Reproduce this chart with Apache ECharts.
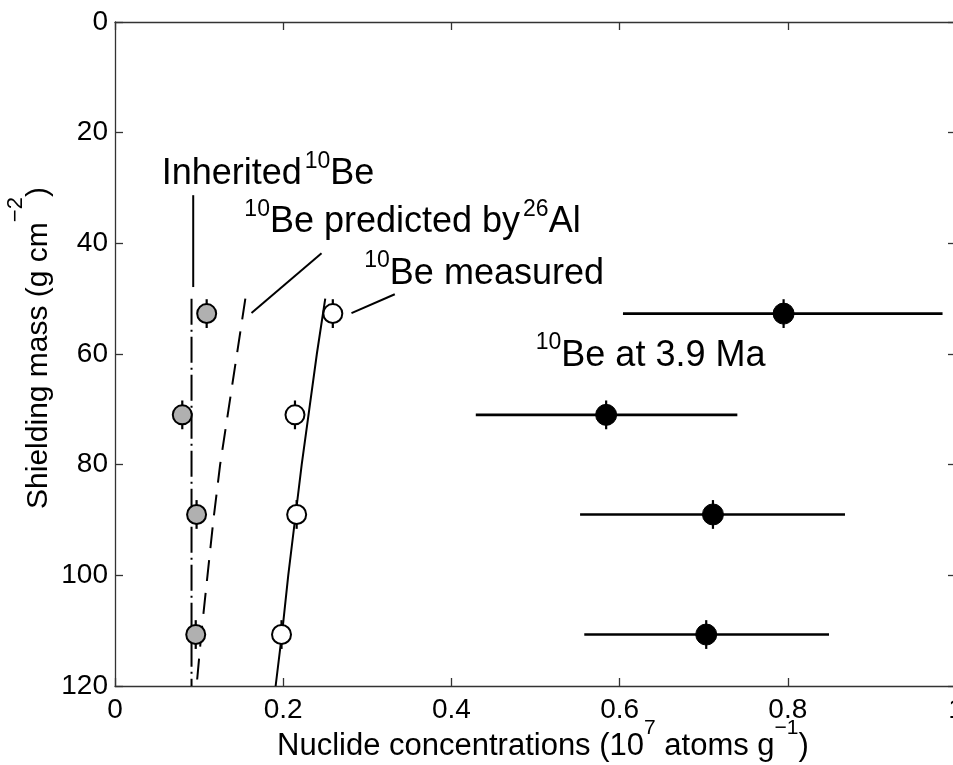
<!DOCTYPE html>
<html><head><meta charset="utf-8">
<script src="https://cdn.jsdelivr.net/npm/echarts@6/dist/echarts.min.js"></script>
<style>html,body{margin:0;padding:0;background:#fff}#c{width:953px;height:765px}</style>
</head><body><div id="c"></div>
<script>
// ---- data ----
const depths = [52.7, 71.0, 89.0, 110.7];
const depthErr = [2.6, 2.6, 2.6, 2.6];
const inherited = [0.109, 0.080, 0.097, 0.096];
const measured = [0.259, 0.214, 0.216, 0.198];
const be39 = [0.795, 0.584, 0.711, 0.703];
const be39Low = [0.604, 0.429, 0.553, 0.558];
const be39High = [0.984, 0.740, 0.868, 0.849];
const curveDepths = [50, 60, 70, 80, 90, 100, 110, 120];
const predictedCurve = [0.155, 0.145, 0.135, 0.125, 0.117, 0.110, 0.103, 0.097];
const measuredCurve = [0.250, 0.240, 0.231, 0.222, 0.214, 0.206, 0.199, 0.191];
const inheritedLevel = [0.091, 0.091];
const inheritedLineDepths = [50, 120];
const xTicks = [0, 0.2, 0.4, 0.6, 0.8, 1];
const yTicks = [0, 20, 40, 60, 80, 100, 120];
// annotations: text pieces (1 = superscript), anchor (x, depth at baseline), leader lines
const annotationPieces = [
  [['Inherited', 0], ['10', 1], ['Be', 0]],
  [['10', 1], ['Be predicted by', 0], ['26', 1], ['Al', 0]],
  [['10', 1], ['Be measured', 0]],
  [['10', 1], ['Be at 3.9 Ma', 0]]
];
const annotationX = [0.0555, 0.1538, 0.2964, 0.5003];
const annotationDepth = [29.8, 38.5, 47.8, 62.6];
const leaderX1 = [0.093, 0.2456, 0.3327];
const leaderD1 = [31.3, 41.8, 49.2];
const leaderX2 = [0.093, 0.1623, 0.2812];
const leaderD2 = [47.9, 52.6, 52.6];

// ---- rendering ----
const FF = 'Liberation Sans, Arial, Helvetica, sans-serif';
const mctx = document.createElement('canvas').getContext('2d');
function tw(t, s) { mctx.font = s + 'px ' + FF; return mctx.measureText(t).width; }
const MID = 0.347;
function pieceEls(parts, x0, baseline) {
  const els = []; let x = x0; let prevMain = false;
  parts.forEach(p => {
    const t = p[0], s = p[1], r = p[2] || 0, gap = p[3] || 0;
    if (r && prevMain) x += gap;
    els.push({type: 'text', x: x, y: baseline - r - MID * s,
      style: {text: t, fontSize: s, fontFamily: FF, fill: '#000', align: 'left', verticalAlign: 'middle'}});
    x += tw(t, s);
    prevMain = !r;
  });
  return {els: els, width: x - x0};
}
const MAIN = 36, SUP = 23, RAISE = 17.5, SUPGAP = 3;

const chart = echarts.init(document.getElementById('c'), null, {renderer: 'canvas'});
const axisCommon = {
  type: 'value',
  axisLine: {show: true, onZero: false, lineStyle: {color: '#333', width: 1.3}},
  axisTick: {show: true, inside: true, length: 8, lineStyle: {color: '#333', width: 1.3}},
  splitLine: {show: false}
};
const xAx = Object.assign({}, axisCommon, {min: xTicks[0], max: xTicks[xTicks.length - 1], interval: xTicks[1] - xTicks[0]});
const yAx = Object.assign({}, axisCommon, {min: yTicks[0], max: yTicks[yTicks.length - 1], interval: yTicks[1] - yTicks[0], inverse: true});

const vErr = [];
[inherited, measured, be39].forEach(arr => arr.forEach((v, i) => vErr.push([v, depths[i], depthErr[i]])));
const hErr = be39Low.map((lo, i) => [lo, be39High[i], depths[i]]);
const leaders = leaderX1.map((x, i) => [x, leaderD1[i], leaderX2[i], leaderD2[i]]);
const annData = annotationX.map((x, i) => [x, annotationDepth[i], i]);

// axis titles
const xt = [['Nuclide concentrations (10', 31], ['7', 21, 22], [' atoms g', 31], ['\u22121', 21, 22], [')', 31]];
const xtEls = pieceEls(xt, 277, 757);
const yt = [['Shielding mass (g cm', 30], ['\u22122', 22, 25], [')', 30]];
const ytEls = pieceEls(yt, 0, 0);

chart.setOption({
  animation: false,
  backgroundColor: '#fff',
  grid: {left: 115, top: 22, width: 841, height: 664, containLabel: false, outerBoundsMode: 'none'},
  xAxis: [
    Object.assign({}, xAx, {position: 'bottom', axisLabel: {fontSize: 28, fontFamily: FF, color: '#000', margin: 10}}),
    Object.assign({}, xAx, {position: 'top', axisLabel: {show: false}})
  ],
  yAxis: [
    Object.assign({}, yAx, {position: 'left', axisLabel: {fontSize: 28, fontFamily: FF, color: '#000', margin: 7}}),
    Object.assign({}, yAx, {position: 'right', axisLabel: {show: false}})
  ],
  graphic: [
    {type: 'group', x: 0, y: 0, children: xtEls.els},
    {type: 'group', x: 49, y: 348 + ytEls.width / 2, rotation: Math.PI / 2, children: ytEls.els}
  ],
  series: [
    {type: 'line', name: 'inherited', data: inheritedLineDepths.map((d, i) => [inheritedLevel[i], d]), symbol: 'none', z: 2,
      lineStyle: {color: '#000', width: 2, type: [26, 5, 2, 5]}},
    {type: 'line', name: 'predicted', data: curveDepths.map((d, i) => [predictedCurve[i], d]), symbol: 'none', z: 2,
      lineStyle: {color: '#000', width: 2, type: [21, 12]}},
    {type: 'line', name: 'measuredFit', data: curveDepths.map((d, i) => [measuredCurve[i], d]), symbol: 'none', z: 2,
      lineStyle: {color: '#000', width: 2, type: 'solid'}},
    {type: 'custom', name: 'leaders', data: leaders, z: 2, encode: {x: [0, 2], y: [1, 3]},
      renderItem: (p, api) => {
        const a = api.coord([api.value(0), api.value(1)]), b = api.coord([api.value(2), api.value(3)]);
        return {type: 'line', shape: {x1: a[0], y1: a[1], x2: b[0], y2: b[1]}, style: {stroke: '#000', lineWidth: 2}};
      }},
    {type: 'custom', name: 'vErr', data: vErr, z: 3, encode: {x: 0, y: 1},
      renderItem: (p, api) => {
        const x = api.value(0), y = api.value(1), e = api.value(2);
        const a = api.coord([x, y - e]), b = api.coord([x, y + e]);
        return {type: 'line', shape: {x1: a[0], y1: a[1], x2: b[0], y2: b[1]}, style: {stroke: '#000', lineWidth: 2.2}};
      }},
    {type: 'custom', name: 'hErr', data: hErr, z: 3, encode: {x: [0, 1], y: 2},
      renderItem: (p, api) => {
        const a = api.coord([api.value(0), api.value(2)]), b = api.coord([api.value(1), api.value(2)]);
        return {type: 'line', shape: {x1: a[0], y1: a[1], x2: b[0], y2: b[1]}, style: {stroke: '#000', lineWidth: 2.6}};
      }},
    {type: 'scatter', name: 'inheritedPts', data: inherited.map((v, i) => [v, depths[i]]), symbol: 'circle', symbolSize: 19, z: 4,
      itemStyle: {color: '#b0b0b0', borderColor: '#000', borderWidth: 2, opacity: 1}},
    {type: 'scatter', name: 'measuredPts', data: measured.map((v, i) => [v, depths[i]]), symbol: 'circle', symbolSize: 19, z: 4,
      itemStyle: {color: '#fff', borderColor: '#000', borderWidth: 2, opacity: 1}},
    {type: 'scatter', name: 'be39Pts', data: be39.map((v, i) => [v, depths[i]]), symbol: 'circle', symbolSize: 21, z: 4,
      itemStyle: {color: '#000', borderColor: '#000', borderWidth: 1, opacity: 1}},
    {type: 'custom', name: 'annotations', data: annData, z: 5, encode: {x: 0, y: 1},
      renderItem: (p, api) => {
        const c = api.coord([api.value(0), api.value(1)]);
        const parts = annotationPieces[api.value(2)].map(q => q[1] ? [q[0], SUP, RAISE, SUPGAP] : [q[0], MAIN]);
        return {type: 'group', children: pieceEls(parts, c[0], c[1]).els};
      }}
  ]
});
</script></body></html>
